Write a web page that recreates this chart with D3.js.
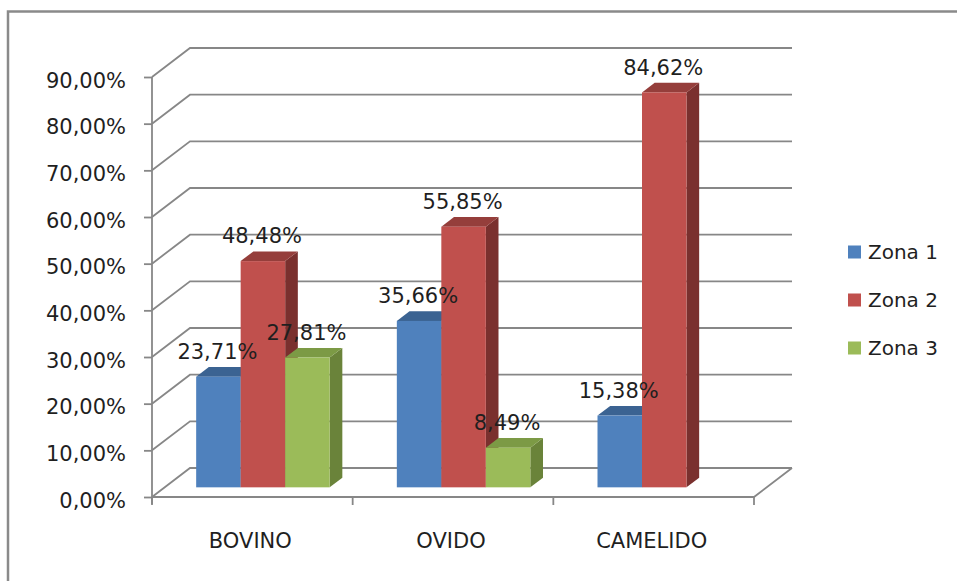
<!DOCTYPE html>
<html>
<head>
<meta charset="utf-8">
<script src="https://cdn.jsdelivr.net/npm/d3@7"></script>
<style>
  body { margin: 0; background: #fff; }
  text { font-family: "DejaVu Sans", sans-serif; fill: #1f1f1f; }
</style>
</head>
<body>
<div id="chart"></div>
<script>
// Data
var categories = ["BOVINO", "OVIDO", "CAMELIDO"];
var seriesNames = ["Zona 1", "Zona 2", "Zona 3"];
var zona1 = [0.2371, 0.3566, 0.1538];
var zona2 = [0.4848, 0.5585, 0.8462];
var zona3 = [0.2781, 0.0849, null];
var yTicks = [0, 0.1, 0.2, 0.3, 0.4, 0.5, 0.6, 0.7, 0.8, 0.9];

var seriesValues = [zona1, zona2, zona3];

// colours: front, top, side
var colors = [
  { front: "#4f81bd", top: "#3b6392", side: "#385d8a" },
  { front: "#c0504d", top: "#953e3b", side: "#7a302e" },
  { front: "#9bbb59", top: "#7c9a45", side: "#6a833a" }
];

var width = 957;
var height = 581;

// 3D depth of the walls
var depthX = 38;
var depthY = -29;
// bars sit in the middle third of the depth
var t0 = 1 / 3;
var t1 = 2 / 3;

var gridColor = "#878787";

var svg = d3
  .select("#chart")
  .append("svg")
  .attr("width", width)
  .attr("height", height);

// outer border (cropped on right and bottom)
svg
  .append("path")
  .attr("d", "M8," + height + " L8,11.5 L" + width + ",11.5")
  .attr("fill", "none")
  .attr("stroke", "#8a8a8a")
  .attr("stroke-width", 2.5);

var xScale = d3
  .scaleBand()
  .domain(categories)
  .range([152, 754]);

var subScale = d3
  .scaleBand()
  .domain(seriesNames)
  .range([31.5, 165]);

var yScale = d3
  .scaleLinear()
  .domain([0, 0.9])
  .range([497, 77]);

var locale = d3.formatLocale({ decimal: ",", thousands: ".", grouping: [3], currency: ["", "€"] });
var pct = locale.format(".2%");

var x0 = xScale.range()[0];
var x1 = xScale.range()[1];

// left wall and back wall gridlines
var grid = svg.append("g").attr("class", "grid");
yTicks.forEach(function(t) {
  var y = yScale(t);
  grid
    .append("path")
    .attr("d", "M" + x0 + "," + y + " L" + (x0 + depthX) + "," + (y + depthY) +
      " L" + (x1 + depthX) + "," + (y + depthY))
    .attr("fill", "none")
    .attr("stroke", gridColor)
    .attr("stroke-width", 1.8);
});

// floor front edge + right edge
svg
  .append("path")
  .attr("d", "M" + x0 + "," + yScale(0) + " L" + x1 + "," + yScale(0) +
    " L" + (x1 + depthX) + "," + (yScale(0) + depthY))
  .attr("fill", "none")
  .attr("stroke", gridColor)
  .attr("stroke-width", 1.8);

// y axis
var yAxis = d3.axisLeft(yScale)
  .tickValues(yTicks)
  .tickFormat(pct)
  .tickSize(8)
  .tickPadding(18);

var yG = svg
  .append("g")
  .attr("transform", "translate(" + x0 + ",0)")
  .call(yAxis);

yG.select(".domain")
  .attr("d", "M0," + yScale(0.9) + " V" + (yScale(0) + 7))
  .attr("stroke", gridColor)
  .attr("stroke-width", 1.8);
yG.selectAll(".tick line").attr("stroke", gridColor).attr("stroke-width", 1.8);
yG.selectAll(".tick text")
  .attr("font-size", "21px")
  .attr("font-family", "DejaVu Sans")
  .attr("fill", "#1f1f1f")
  .attr("dy", "0.48em");

// category ticks
var catTicks = d3.range(categories.length + 1).map(function(i) {
  return x0 + i * xScale.bandwidth();
});
svg
  .selectAll("line.catTick")
  .data(catTicks)
  .enter()
  .append("line")
  .attr("class", "catTick")
  .attr("x1", function(d) { return d; })
  .attr("x2", function(d) { return d; })
  .attr("y1", yScale(0))
  .attr("y2", yScale(0) + 8)
  .attr("stroke", gridColor)
  .attr("stroke-width", 1.8);

svg
  .selectAll("text.catLabel")
  .data(categories)
  .enter()
  .append("text")
  .attr("class", "catLabel")
  .attr("x", function(d) { return xScale(d) + xScale.bandwidth() / 2 - 2; })
  .attr("y", 548)
  .attr("text-anchor", "middle")
  .attr("font-size", "21px")
  .text(function(d) { return d; });

// bars
var bars = svg.append("g").attr("class", "bars");
var w = subScale.bandwidth();

categories.forEach(function(cat, ci) {
  seriesNames.forEach(function(name, si) {
    var v = seriesValues[si][ci];
    if (v === null) return;

    var bx = xScale(cat) + subScale(name);
    var fx = bx + t0 * depthX;
    var fyTop = yScale(v) + t0 * depthY;
    var fyBot = yScale(0) + t0 * depthY;
    var bdx = (t1 - t0) * depthX;
    var bdy = (t1 - t0) * depthY;
    var c = colors[si];

    // side
    bars.append("path")
      .attr("d", "M" + (fx + w) + "," + fyTop + " L" + (fx + w + bdx) + "," + (fyTop + bdy) +
        " L" + (fx + w + bdx) + "," + (fyBot + bdy) + " L" + (fx + w) + "," + fyBot + "Z")
      .attr("fill", c.side);

    // top
    bars.append("path")
      .attr("d", "M" + fx + "," + fyTop + " L" + (fx + w) + "," + fyTop +
        " L" + (fx + w + bdx) + "," + (fyTop + bdy) + " L" + (fx + bdx) + "," + (fyTop + bdy) + "Z")
      .attr("fill", c.top);

    // front
    bars.append("rect")
      .attr("x", fx)
      .attr("y", fyTop)
      .attr("width", w)
      .attr("height", fyBot - fyTop)
      .attr("fill", c.front);
  });
});

// data labels
categories.forEach(function(cat, ci) {
  seriesNames.forEach(function(name, si) {
    var v = seriesValues[si][ci];
    if (v === null) return;
    var bx = xScale(cat) + subScale(name) + t0 * depthX;
    svg.append("text")
      .attr("x", bx + w / 2 - 1)
      .attr("y", yScale(v) + t1 * depthY - 8)
      .attr("text-anchor", "middle")
      .attr("font-size", "21px")
      .text(pct(v));
  });
});

// legend
var legend = svg
  .selectAll("g.legend")
  .data(seriesNames)
  .enter()
  .append("g")
  .attr("class", "legend")
  .attr("transform", function(d, i) { return "translate(848," + (252 + i * 48) + ")"; });

legend
  .append("rect")
  .attr("x", 0)
  .attr("y", -6.5)
  .attr("width", 13)
  .attr("height", 13)
  .attr("fill", function(d, i) { return colors[i].front; });

legend
  .append("text")
  .attr("x", 20)
  .attr("y", 0)
  .attr("dy", "0.36em")
  .attr("font-size", "20px")
  .text(function(d) { return d; });
</script>
</body>
</html>
